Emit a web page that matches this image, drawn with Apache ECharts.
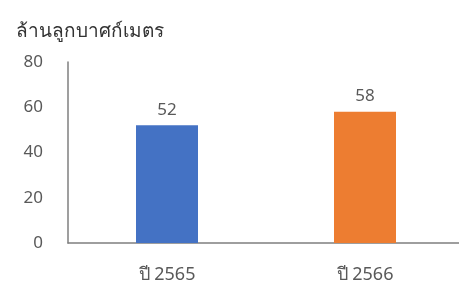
<!DOCTYPE html>
<html>
<head>
<meta charset="utf-8">
<script src="https://cdn.jsdelivr.net/npm/echarts@6/dist/echarts.min.js"></script>
<style>
  html, body { margin: 0; padding: 0; background: #fff; }
  #chart { width: 459px; height: 291px; }
</style>
</head>
<body>
<div id="chart"></div>
<script>
// ข้อมูล
const categories = ["ปี 2565", "ปี 2566"];
const values = [52, 58];
const barColors = ["#4472C4", "#ED7D31"];
const yTicks = [0, 20, 40, 60, 80];

const chart = echarts.init(document.getElementById("chart"));
const option = {
  animation: false,
  title: {
    text: "ล้านลูกบาศก์เมตร",
    left: 11,
    top: 17,
    textStyle: {
      fontFamily: "Noto Sans, sans-serif",
      fontSize: 19,
      fontWeight: 500,
      color: "#333",
    },
  },
  grid: {
    left: 68,
    right: -5,
    top: 62,
    bottom: 48,
    outerBoundsMode: "none",
  },
  xAxis: {
    type: "category",
    data: categories,
    axisLine: { lineStyle: { color: "#7f7f7f", width: 1.5 } },
    axisTick: { show: false },
    axisLabel: {
      margin: 23,
      fontSize: 18,
      color: "#595959",
      fontFamily: "Noto Sans, sans-serif",
    },
  },
  yAxis: {
    type: "value",
    min: yTicks[0],
    max: yTicks[yTicks.length - 1],
    interval: 20,
    axisLine: { show: true, lineStyle: { color: "#7f7f7f", width: 1.5 } },
    axisTick: { show: false },
    splitLine: { show: false },
    axisLabel: {
      margin: 25,
      fontSize: 17,
      color: "#595959",
      fontFamily: "Noto Sans, sans-serif",
    },
  },
  series: [
    {
      type: "bar",
      barWidth: 62,
      data: values.map((v, i) => ({ value: v, itemStyle: { color: barColors[i] } })),
      label: {
        show: true,
        position: "top",
        distance: 7,
        fontSize: 17,
        color: "#595959",
        fontFamily: "Noto Sans, sans-serif",
      },
    },
  ],
};
chart.setOption(option);
</script>
</body>
</html>
